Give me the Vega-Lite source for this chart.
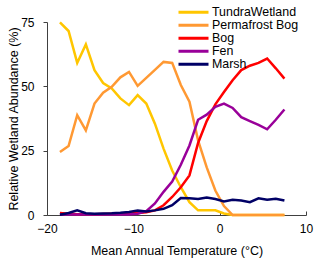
{
  "$schema": "https://vega.github.io/schema/vega-lite/v6.json",
  "width": 259,
  "height": 193,
  "autosize": {"type": "none"},
  "padding": {"left": 47, "top": 22, "right": 14, "bottom": 49},
  "background": "white",
  "config": {
    "view": {"stroke": null},
    "font": "Liberation Sans",
    "axis": {"grid": false, "domainColor": "#404040", "tickColor": "#404040", "labelColor": "black", "titleColor": "black", "labelFontSize": 12, "titleFontSize": 12.5, "titleFontWeight": "normal", "labelFont": "Liberation Sans", "titleFont": "Liberation Sans"}
  },
  "data": {"values": [
    {"t": -18.5, "TundraWetland": 74.9, "Permafrost Bog": 24.5, "Bog": 0.8, "Fen": 0.2, "Marsh": 0.1},
    {"t": -17.5, "TundraWetland": 71.5, "Permafrost Bog": 26.8, "Bog": 0.5, "Fen": 0.2, "Marsh": 0.8},
    {"t": -16.5, "TundraWetland": 59.1, "Permafrost Bog": 38.8, "Bog": 0.3, "Fen": 0.2, "Marsh": 1.8},
    {"t": -15.5, "TundraWetland": 66.3, "Permafrost Bog": 32.9, "Bog": 0.3, "Fen": 0.2, "Marsh": 0.7},
    {"t": -14.5, "TundraWetland": 56.3, "Permafrost Bog": 43.3, "Bog": 0.3, "Fen": 0.2, "Marsh": 0.5},
    {"t": -13.5, "TundraWetland": 51.3, "Permafrost Bog": 47.5, "Bog": 0.4, "Fen": 0.2, "Marsh": 0.6},
    {"t": -12.5, "TundraWetland": 49.2, "Permafrost Bog": 49.8, "Bog": 0.5, "Fen": 0.2, "Marsh": 0.7},
    {"t": -11.5, "TundraWetland": 45.3, "Permafrost Bog": 53.5, "Bog": 0.5, "Fen": 0.2, "Marsh": 0.9},
    {"t": -10.5, "TundraWetland": 42.7, "Permafrost Bog": 55.6, "Bog": 0.6, "Fen": 0.2, "Marsh": 1.2},
    {"t": -9.5, "TundraWetland": 46.6, "Permafrost Bog": 50.2, "Bog": 0.8, "Fen": 0.5, "Marsh": 1.7},
    {"t": -8.5, "TundraWetland": 43.3, "Permafrost Bog": 53.3, "Bog": 1.1, "Fen": 1.5, "Marsh": 1.4},
    {"t": -7.5, "TundraWetland": 35.5, "Permafrost Bog": 56.4, "Bog": 1.8, "Fen": 4.5, "Marsh": 1.8},
    {"t": -6.5, "TundraWetland": 25.8, "Permafrost Bog": 59.5, "Bog": 3.8, "Fen": 9, "Marsh": 2.4},
    {"t": -5.5, "TundraWetland": 17.3, "Permafrost Bog": 59.1, "Bog": 7, "Fen": 13, "Marsh": 3.8},
    {"t": -4.5, "TundraWetland": 10.8, "Permafrost Bog": 50.5, "Bog": 10.8, "Fen": 19.5, "Marsh": 6.6},
    {"t": -3.5, "TundraWetland": 5, "Permafrost Bog": 44, "Bog": 15.4, "Fen": 27, "Marsh": 6.5},
    {"t": -2.5, "TundraWetland": 1.8, "Permafrost Bog": 29, "Bog": 28, "Fen": 37, "Marsh": 6.2},
    {"t": -1.5, "TundraWetland": 1.8, "Permafrost Bog": 18.5, "Bog": 36.5, "Fen": 39, "Marsh": 6.8},
    {"t": -0.5, "TundraWetland": 1.8, "Permafrost Bog": 9.5, "Bog": 43, "Fen": 42, "Marsh": 6.2},
    {"t": 0.5, "TundraWetland": 0.6, "Permafrost Bog": 3.5, "Bog": 47.8, "Fen": 43.3, "Marsh": 5.3},
    {"t": 1.5, "TundraWetland": 0, "Permafrost Bog": 0, "Bog": 52.4, "Fen": 41.6, "Marsh": 5.9},
    {"t": 2.5, "TundraWetland": 0, "Permafrost Bog": 0, "Bog": 56.3, "Fen": 38, "Marsh": 5.6},
    {"t": 3.5, "TundraWetland": 0, "Permafrost Bog": 0, "Bog": 58, "Fen": 36.5, "Marsh": 5},
    {"t": 4.5, "TundraWetland": 0, "Permafrost Bog": 0, "Bog": 59.1, "Fen": 35, "Marsh": 6.5},
    {"t": 5.5, "TundraWetland": 0, "Permafrost Bog": 0, "Bog": 60.8, "Fen": 33.3, "Marsh": 5.9},
    {"t": 6.5, "TundraWetland": 0, "Permafrost Bog": 0, "Bog": 57, "Fen": 37, "Marsh": 6.3},
    {"t": 7.5, "TundraWetland": 0, "Permafrost Bog": 0, "Bog": 53, "Fen": 41, "Marsh": 5.6}
  ]},
  "transform": [
    {"fold": ["TundraWetland", "Permafrost Bog", "Bog", "Fen", "Marsh"], "as": ["type", "value"]}
  ],
  "mark": {"type": "line", "strokeWidth": 2.5, "strokeJoin": "miter"},
  "encoding": {
    "x": {"field": "t", "type": "quantitative", "scale": {"domain": [-20, 10], "nice": false},
      "axis": {"values": [-20, -10, 0, 10], "title": "Mean Annual Temperature (°C)", "tickSize": -4, "labelPadding": 12, "titlePadding": 10, "labelFlush": false}},
    "y": {"field": "value", "type": "quantitative", "scale": {"domain": [0, 75], "nice": false},
      "axis": {"values": [0, 25, 50, 75], "title": "Relative Wetland Abundance (%)", "tickSize": 4, "labelPadding": 9, "titlePadding": 0, "labelFlush": false}},
    "color": {"field": "type", "type": "nominal",
      "scale": {"domain": ["TundraWetland", "Permafrost Bog", "Bog", "Fen", "Marsh"], "range": ["#FFC600", "#FF9933", "#FF0000", "#990099", "#000066"]},
      "legend": {"title": null, "orient": "none", "legendX": 130, "legendY": -16, "symbolType": "stroke", "symbolSize": 900, "symbolStrokeWidth": 3, "labelFontSize": 12.4, "labelFont": "Liberation Sans", "labelColor": "black", "labelOffset": 2, "rowPadding": 0, "clipHeight": 12.5, "symbolOffset": 0}
    },
    "order": {"field": "t", "type": "quantitative"}
  }
}
